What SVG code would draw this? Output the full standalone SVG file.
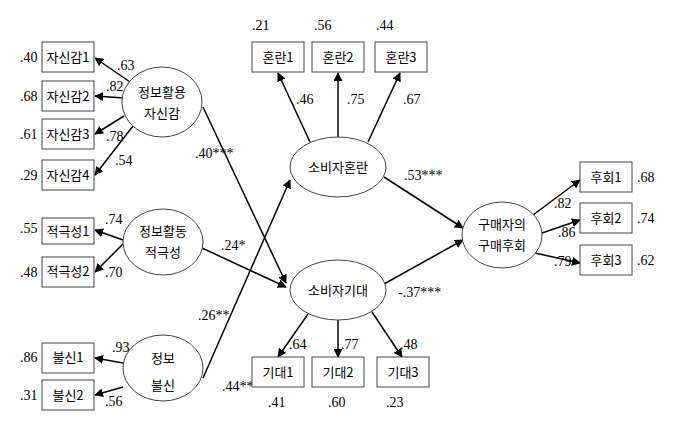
<svg xmlns="http://www.w3.org/2000/svg" width="680" height="439" viewBox="0 0 680 439">
<style>
text{font-family:"Liberation Serif","Noto Sans CJK KR",serif;font-size:14px;fill:#000}
.k{font-family:"Noto Sans CJK KR",sans-serif;font-size:13px;text-anchor:middle}
rect{fill:#fff;stroke:#444;stroke-width:1}
ellipse{fill:#fff;stroke:#444;stroke-width:1}
.c line{stroke:#000;stroke-width:1.5;marker-end:url(#a)}
</style>
<defs><marker id="a" viewBox="0 0 10 10" refX="9" refY="5" markerWidth="9" markerHeight="9" markerUnits="userSpaceOnUse" orient="auto"><path d="M0 0L10 5L0 10z"/></marker></defs>
<rect width="680" height="439" style="stroke:none"/>
<g class="c">
<line x1="133" y1="84" x2="95" y2="58"/>
<line x1="124" y1="98" x2="95" y2="96"/>
<line x1="124" y1="116" x2="95" y2="134"/>
<line x1="133" y1="126" x2="95" y2="175"/>
<line x1="123" y1="240" x2="95" y2="230"/>
<line x1="123" y1="244" x2="95" y2="272"/>
<line x1="123" y1="363" x2="95" y2="358"/>
<line x1="123" y1="387" x2="95" y2="395"/>
<line x1="203" y1="107" x2="286" y2="283"/>
<line x1="202" y1="248" x2="286" y2="287"/>
<line x1="203" y1="378" x2="290" y2="180"/>
<line x1="310" y1="142" x2="278" y2="73"/>
<line x1="338" y1="137" x2="338" y2="73"/>
<line x1="368" y1="142" x2="400" y2="73"/>
<line x1="308" y1="314" x2="278" y2="357"/>
<line x1="338" y1="320" x2="338" y2="357"/>
<line x1="372" y1="312" x2="402" y2="357"/>
<line x1="384" y1="177" x2="463" y2="228"/>
<line x1="384" y1="284" x2="463" y2="240"/>
<line x1="533" y1="215" x2="580" y2="180"/>
<line x1="542" y1="233" x2="580" y2="220"/>
<line x1="535" y1="253" x2="580" y2="263"/>
</g>
<g id="n-conf"><ellipse cx="162" cy="102" rx="40" ry="35"/><text class="k" x="162" y="97">정보활용</text><text class="k" x="162" y="118">자신감</text></g>
<g id="n-act"><ellipse cx="163" cy="242" rx="40" ry="33"/><text class="k" x="163" y="236">정보활동</text><text class="k" x="163" y="257">적극성</text></g>
<g id="n-dist"><ellipse cx="163" cy="368" rx="40" ry="33"/><text class="k" x="163" y="363">정보</text><text class="k" x="163" y="390">불신</text></g>
<g id="n-confu"><ellipse cx="338" cy="167" rx="48" ry="30"/><text class="k" x="338" y="172">소비자혼란</text></g>
<g id="n-exp"><ellipse cx="338" cy="290" rx="48" ry="30"/><text class="k" x="338" y="295">소비자기대</text></g>
<g id="n-reg"><ellipse cx="502" cy="235" rx="40" ry="33"/><text class="k" x="502" y="229">구매자의</text><text class="k" x="502" y="250">구매후회</text></g>
<g id="b-j"><rect x="42" y="42" width="52" height="30"/><text class="k" x="68" y="62">자신감1</text><rect x="42" y="81" width="52" height="30"/><text class="k" x="68" y="101">자신감2</text><rect x="42" y="119" width="52" height="30"/><text class="k" x="68" y="139">자신감3</text><rect x="42" y="160" width="52" height="30"/><text class="k" x="68" y="180">자신감4</text></g>
<g id="b-a"><rect x="42" y="218" width="52" height="26"/><text class="k" x="68" y="236">적극성1</text><rect x="42" y="257" width="52" height="30"/><text class="k" x="68" y="276">적극성2</text></g>
<g id="b-d"><rect x="42" y="343" width="52" height="30"/><text class="k" x="68" y="362">불신1</text><rect x="42" y="380" width="52" height="30"/><text class="k" x="68" y="400">불신2</text></g>
<g id="b-c"><rect x="252" y="42" width="52" height="30"/><text class="k" x="278" y="62">혼란1</text><rect x="312" y="42" width="52" height="30"/><text class="k" x="338" y="62">혼란2</text><rect x="375" y="42" width="52" height="30"/><text class="k" x="401" y="62">혼란3</text></g>
<g id="b-r"><rect x="580" y="162" width="52" height="30"/><text class="k" x="606" y="182">후회1</text><rect x="580" y="203" width="52" height="30"/><text class="k" x="606" y="223">후회2</text><rect x="580" y="245" width="52" height="30"/><text class="k" x="606" y="265">후회3</text></g>
<text x="222" y="391">.44**</text>
<g id="b-e"><rect x="252" y="357" width="52" height="30"/><text class="k" x="278" y="377">기대1</text><rect x="312" y="357" width="52" height="30"/><text class="k" x="338" y="377">기대2</text><rect x="377" y="357" width="52" height="30"/><text class="k" x="403" y="377">기대3</text></g>
<g>
<text x="20" y="62">.40</text><text x="20" y="101">.68</text><text x="20" y="139">.61</text><text x="20" y="180">.29</text><text x="20" y="233">.55</text><text x="20" y="277">.48</text><text x="20" y="362">.86</text><text x="20" y="400">.31</text>
<text x="117" y="70">.63</text><text x="106" y="91">.82</text><text x="106" y="141">.78</text><text x="115" y="165">.54</text><text x="105" y="224">.74</text><text x="105" y="277">.70</text><text x="112" y="352">.93</text><text x="105" y="406">.56</text>
<text x="252" y="30">.21</text><text x="314" y="30">.56</text><text x="376" y="30">.44</text>
<text x="296" y="104">.46</text><text x="347" y="104">.75</text><text x="403" y="104">.67</text>
<text x="289" y="349">.64</text><text x="341" y="349">.77</text><text x="400" y="349">.48</text>
<text x="268" y="407">.41</text><text x="328" y="407">.60</text><text x="386" y="407">.23</text>
<text x="195" y="158">.40***</text><text x="221" y="250">.24*</text><text x="198" y="320">.26**</text>
<text x="404" y="180">.53***</text><text x="398" y="297">-.37***</text>
<text x="554" y="208">.82</text><text x="558" y="237">.86</text><text x="554" y="266">.79</text>
<text x="637" y="182">.68</text><text x="637" y="223">.74</text><text x="637" y="265">.62</text>
</g>
</svg>
